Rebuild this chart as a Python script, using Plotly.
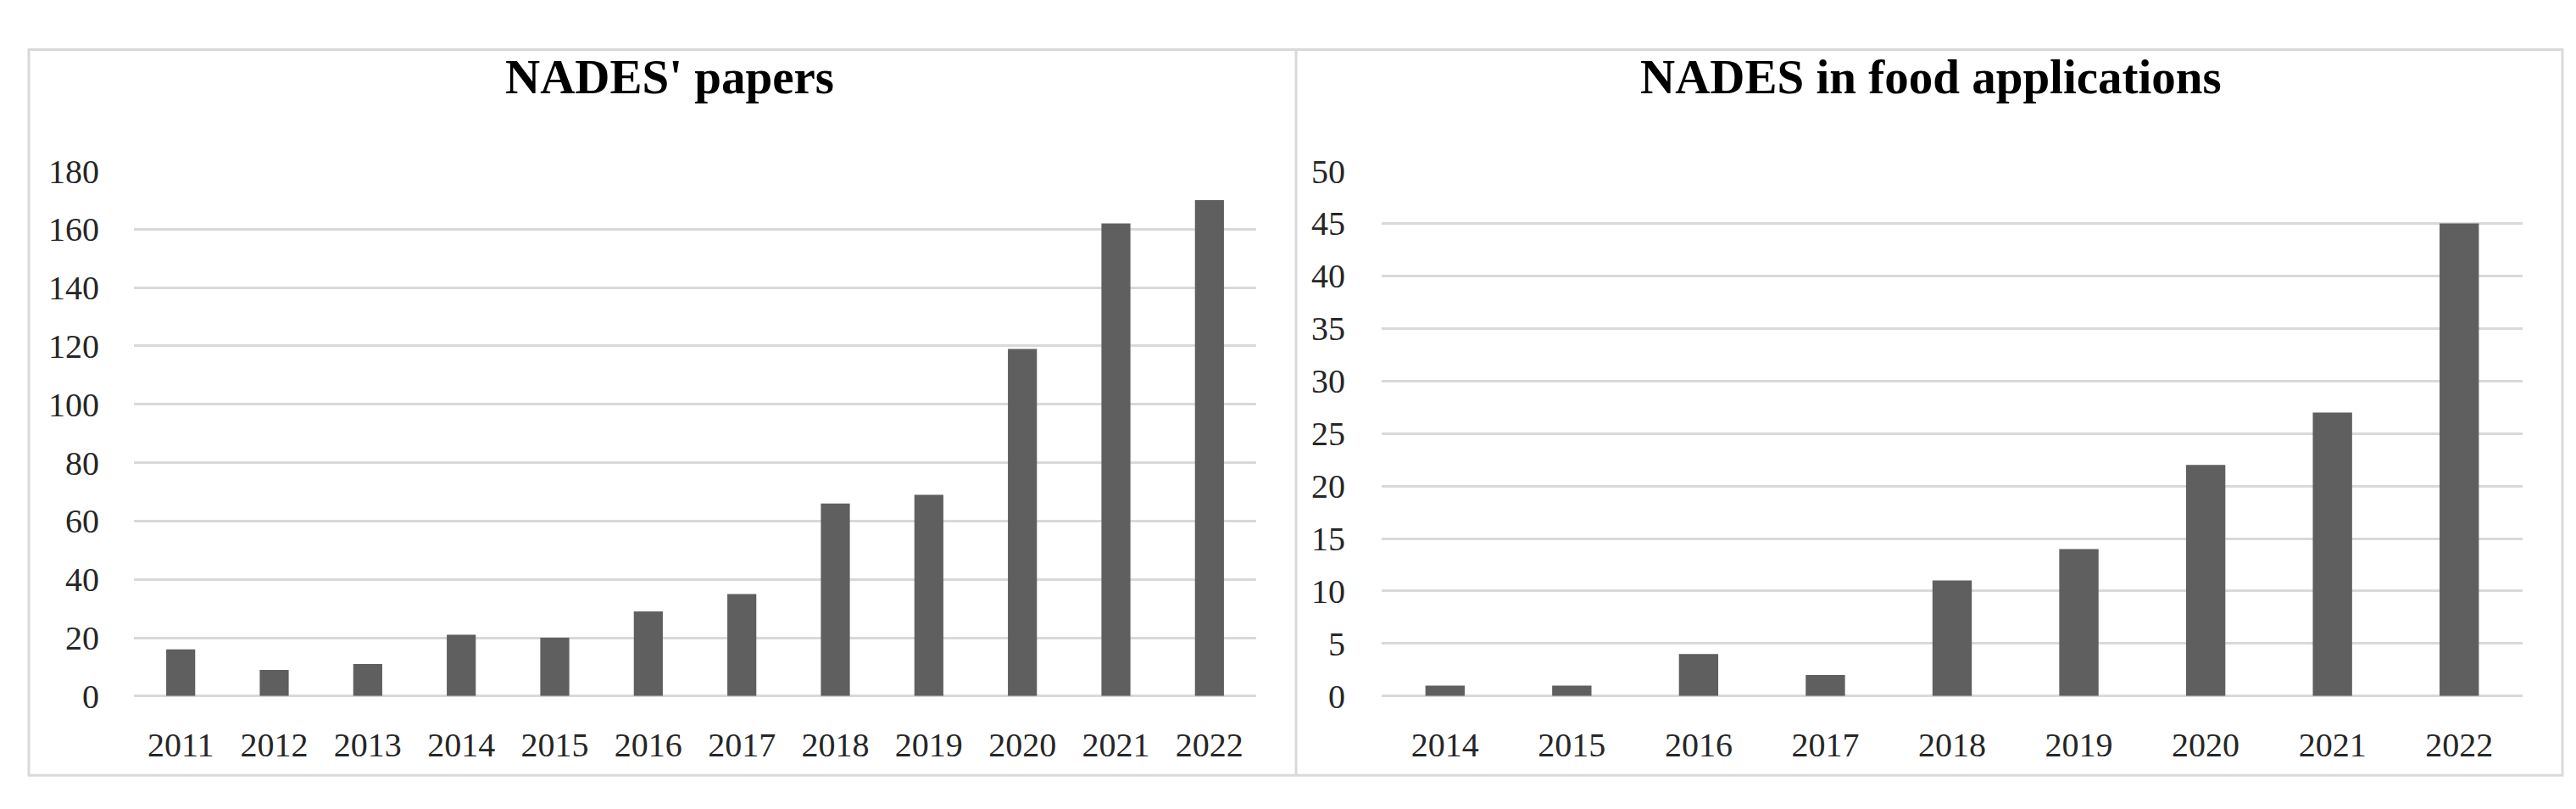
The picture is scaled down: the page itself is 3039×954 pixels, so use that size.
import plotly.graph_objects as go

W, H = 3039, 954

years_all = ["2011", "2012", "2013", "2014", "2015", "2016", "2017", "2018", "2019", "2020", "2021", "2022"]
papers = [16, 9, 11, 21, 20, 29, 35, 66, 69, 119, 162, 170]

years_food = ["2014", "2015", "2016", "2017", "2018", "2019", "2020", "2021", "2022"]
food = [1, 1, 4, 2, 11, 14, 22, 27, 45]

title_left = "NADES' papers"
title_right = "NADES in food applications"

BAR = "#5f5f5f"
GRID = "#d9d9d9"
FONT = "Liberation Serif"


def px_x(v):
    return v / W


def px_y(v):
    return (H - v) / H


fig = go.Figure()
fig.add_trace(go.Bar(x=years_all, y=papers, marker=dict(color=BAR, line=dict(width=0)),
                     xaxis="x", yaxis="y", showlegend=False))
fig.add_trace(go.Bar(x=years_food, y=food, marker=dict(color=BAR, line=dict(width=0)),
                     xaxis="x2", yaxis="y2", showlegend=False))

tickfont = dict(family=FONT, size=40, color="#262626")

common_x = dict(showgrid=False, zeroline=False, showline=False, ticks="", tickfont=tickfont,
                ticklabelstandoff=30, fixedrange=True)
common_y = dict(showgrid=True, gridcolor=GRID, gridwidth=3, zeroline=True, zerolinecolor=GRID,
                zerolinewidth=3, showline=False, ticks="", tickfont=tickfont, fixedrange=True)

fig.update_layout(
    width=W, height=H,
    margin=dict(l=0, r=0, t=0, b=0),
    paper_bgcolor="white", plot_bgcolor="white",
    bargap=0.69,
    xaxis=dict(domain=[px_x(150), px_x(1474)], anchor="y", **common_x),
    yaxis=dict(domain=[px_y(830), px_y(180)], anchor="x", range=[0, 180], dtick=20,
               ticklabelstandoff=40, **common_y),
    xaxis2=dict(domain=[px_x(1622), px_x(2968)], anchor="y2", **common_x),
    yaxis2=dict(domain=[px_y(830), px_y(180)], anchor="x2", range=[0, 50], dtick=5,
                ticklabelstandoff=42, **common_y),
    shapes=[
        dict(type="rect", xref="paper", yref="paper", x0=px_x(26), x1=px_x(3015),
             y0=px_y(928), y1=px_y(30), line=dict(color=GRID, width=3), layer="below"),
        dict(type="line", xref="paper", yref="paper", x0=px_x(1521), x1=px_x(1521),
             y0=px_y(928), y1=px_y(30), line=dict(color=GRID, width=3), layer="below"),
    ],
    annotations=[
        dict(text="<b>" + title_left + "</b>", xref="paper", yref="paper",
             x=px_x(782), y=px_y(64), xanchor="center", yanchor="middle", showarrow=False,
             font=dict(family=FONT, size=57, color="black")),
        dict(text="<b>" + title_right + "</b>", xref="paper", yref="paper",
             x=px_x(2270), y=px_y(64), xanchor="center", yanchor="middle", showarrow=False,
             font=dict(family=FONT, size=57, color="black")),
    ],
)

fig.write_html("out.html")
